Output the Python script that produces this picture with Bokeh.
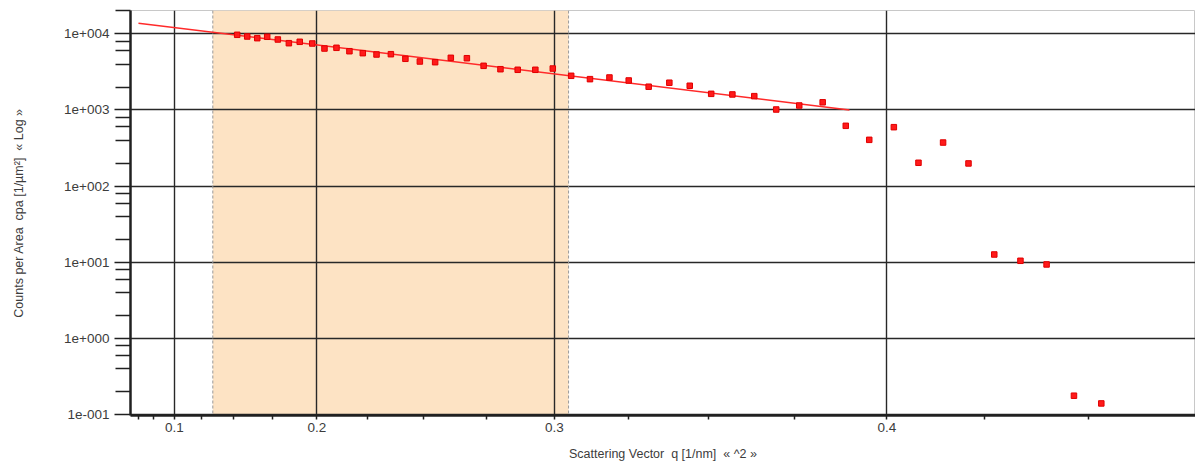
from bokeh.plotting import figure
from bokeh.models import (Range1d, FixedTicker, CustomJSTickFormatter, BoxAnnotation, Span)
from bokeh.embed import file_html
from bokeh.resources import INLINE
import numpy as np

# ---- data ----
q = [0.1523, 0.1591, 0.1656, 0.1718, 0.1782, 0.1846, 0.1907, 0.1975, 0.2039, 0.2100,
     0.2164, 0.2228, 0.2292, 0.2357, 0.2421, 0.2483, 0.2547, 0.2611, 0.2675, 0.2740,
     0.2804, 0.2868, 0.2932, 0.2994, 0.3058, 0.3122, 0.3187, 0.3250, 0.3314, 0.3379,
     0.3442, 0.3507, 0.3570, 0.3634, 0.3697, 0.3762, 0.3827, 0.3890, 0.3953, 0.4018,
     0.4082, 0.4145, 0.4209, 0.4273, 0.4337, 0.4400, 0.4465, 0.4529]
counts = [9700, 9220, 8760, 9140, 8420, 7530, 7850, 7460, 6410, 6550,
          5910, 5570, 5350, 5400, 4700, 4330, 4240, 4840, 4780, 3800,
          3430, 3370, 3370, 3500, 2810, 2540, 2670, 2440, 2020, 2280,
          2080, 1630, 1600, 1520, 1015, 1146, 1262, 620, 406, 595,
          203, 374, 199, 12.7, 10.5, 9.4, 0.178, 0.141]

fit_q = [0.0492, 0.3900]
fit_counts = [13800, 1000]

region_q = [0.1344, 0.3049]

x_tick_values = [0.1, 0.2, 0.3, 0.4]
x_tick_labels = ["0.1", "0.2", "0.3", "0.4"]
x_minor_values = [0.025, 0.05, 0.075, 0.125, 0.15, 0.175, 0.225, 0.25, 0.275,
                  0.325, 0.35, 0.375, 0.425, 0.45, 0.475]
y_tick_values = [0.1, 1, 10, 100, 1000, 10000]
y_tick_labels = ["1e-001", "1e+000", "1e+001", "1e+002", "1e+003", "1e+004"]
y_minor_mult = [2, 4, 6, 8]

# ---- derived (x axis is q^2 scaled) ----
xq2 = [v * v for v in q]
fit_x = [v * v for v in fit_q]
x_major_pos = [v * v for v in x_tick_values]
x_minor_pos = [v * v for v in x_minor_values]
y_minor_pos = [m * d for d in y_tick_values for m in y_minor_mult]

FONT = "Liberation Sans"
TXT = "#3c3c3c"
NB = "\u00a0"

p = figure(width=1195, height=465, output_backend="svg", toolbar_location=None,
           y_axis_type="log",
           x_range=Range1d(0.000737, 0.22495), y_range=Range1d(0.0979, 20220),
           min_border_left=130, min_border_right=0, min_border_top=10,
           min_border_bottom=50)

p.outline_line_color = "#c8c8c8"
p.outline_line_width = 1
p.background_fill_color = "white"

# shaded fit region
box = BoxAnnotation(left=region_q[0] ** 2, right=region_q[1] ** 2,
                    fill_color="#fde3c4", fill_alpha=1.0, line_alpha=0, level="image")
p.add_layout(box)
for rq in region_q:
    p.add_layout(Span(location=rq ** 2, dimension="height", line_color="#9a9a9a",
                      line_dash="3 2", line_width=1, level="underlay"))

fmt_code = """
let b = 0;
for (let i = 0; i < pos.length; i++) {
  if (Math.abs(pos[i] - tick) < Math.abs(pos[b] - tick)) b = i;
}
return labs[b];
"""

# x axis
p.xaxis.ticker = FixedTicker(ticks=x_major_pos, minor_ticks=x_minor_pos)
p.xaxis.formatter = CustomJSTickFormatter(args=dict(pos=x_major_pos, labs=x_tick_labels), code=fmt_code)
p.xaxis.axis_label = "Scattering Vector" + NB * 2 + "q [1/nm]" + NB * 2 + "« ^2 »"
p.xaxis.major_tick_out = 4
p.xaxis.major_tick_in = 0
p.xaxis.minor_tick_out = 4
p.xaxis.minor_tick_in = 0
p.xaxis.major_label_standoff = 3
p.xaxis.axis_label_standoff = 12

# y axis
ylog_pos = [float(np.log10(v)) for v in y_tick_values]
p.yaxis.ticker = FixedTicker(ticks=y_tick_values, minor_ticks=y_minor_pos)
p.yaxis.formatter = CustomJSTickFormatter(args=dict(pos=ylog_pos, labs=y_tick_labels),
    code=fmt_code.replace("pos[i] - tick", "pos[i] - Math.log10(tick)").replace("pos[b] - tick", "pos[b] - Math.log10(tick)"))
p.yaxis.axis_label = "Counts per Area" + NB * 2 + "cpa [1/µm²]" + NB * 2 + "« Log »"
p.yaxis.major_tick_out = 16
p.yaxis.major_tick_in = 0
p.yaxis.minor_tick_out = 15
p.yaxis.minor_tick_in = 0
p.yaxis.major_label_standoff = 5
p.yaxis.axis_label_standoff = 35

for ax in (p.xaxis, p.yaxis):
    ax.axis_line_color = "#202020"
    ax.axis_line_width = 2.5
    ax.major_tick_line_color = "#202020"
    ax.minor_tick_line_color = "#202020"
    ax.major_tick_line_width = 1.5
    ax.minor_tick_line_width = 1.5
    ax.major_label_text_font = FONT
    ax.major_label_text_font_size = "13.5px"
    ax.major_label_text_color = TXT
    ax.axis_label_text_font = FONT
    ax.axis_label_text_font_size = "12.5px"
    ax.axis_label_text_font_style = "normal"
    ax.axis_label_text_color = TXT

p.xgrid.ticker = FixedTicker(ticks=x_major_pos)
p.ygrid.ticker = FixedTicker(ticks=y_tick_values)
for g in (p.xgrid, p.ygrid):
    g.grid_line_color = "#282828"
    g.grid_line_width = 1.4
    g.grid_line_alpha = 1.0

# fit line
p.line(fit_x, fit_counts, line_color="#ff2a2a", line_width=1.5)

# data points
p.scatter(xq2, counts, marker="square", size=5.5, fill_color="#ff1a1a", line_color="#e00000", line_width=1)

open("out.html", "w").write(file_html(p, INLINE))
